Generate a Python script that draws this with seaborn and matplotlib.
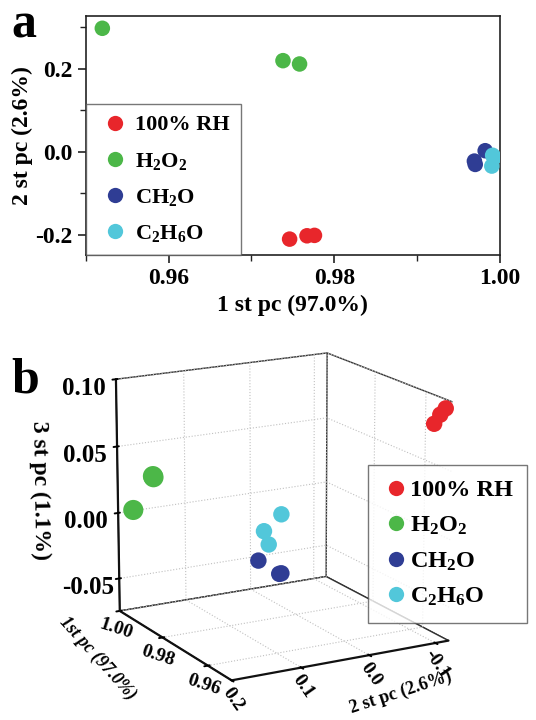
import matplotlib
matplotlib.use("Agg")
import matplotlib.pyplot as plt
from matplotlib.lines import Line2D
from matplotlib.ticker import MultipleLocator, FixedLocator
import pandas as pd
import seaborn as sns

# ---- data ----
groups = ["100% RH", "H2O2", "CH2O", "C2H6O"]
legend_labels = ["100% RH", r"H$_2$O$_2$", r"CH$_2$O", r"C$_2$H$_6$O"]
colors = ["#e8262b", "#4cb748", "#2f3d94", "#52c7da"]

# panel a: 1st pc vs 2nd pc
rh_pc1 = [0.9746, 0.9767, 0.9776]
rh_pc2 = [-0.210, -0.202, -0.201]
h2o2_pc1 = [0.9520, 0.9738, 0.9758]
h2o2_pc2 = [0.298, 0.220, 0.212]
ch2o_pc1 = [0.9982, 0.9969, 0.9970]
ch2o_pc2 = [0.003, -0.022, -0.030]
c2h6o_pc1 = [0.9991, 0.9993, 0.9990]
c2h6o_pc2 = [-0.008, -0.013, -0.034]

# panel b: 3D (1st, 2nd, 3rd pc)
rh_b = dict(pc1=[0.953, 0.952, 0.951], pc2=[-0.105, -0.110, -0.114], pc3=[0.083, 0.090, 0.095])
h2o2_b = dict(pc1=[0.996, 0.987, 0.986], pc2=[0.190, 0.188, 0.192], pc3=[0.005, 0.037, 0.039])
ch2o_b = dict(pc1=[0.993, 0.9835, 0.985], pc2=[0.012, 0.010, 0.008], pc3=[-0.045, -0.046, -0.048])
c2h6o_b = dict(pc1=[0.9835, 0.9905, 0.989], pc2=[0.010, 0.012, 0.010], pc3=[-0.001, -0.020, -0.029])

sns.set_theme(style="ticks")
plt.rcParams["font.family"] = ["Liberation Serif", "DejaVu Serif"]
plt.rcParams["font.weight"] = "bold"
plt.rcParams["axes.labelweight"] = "bold"
plt.rcParams["text.color"] = "black"
plt.rcParams["axes.labelcolor"] = "black"
plt.rcParams["xtick.color"] = "black"
plt.rcParams["ytick.color"] = "black"
plt.rcParams["mathtext.fontset"] = "custom"
plt.rcParams["mathtext.rm"] = "Liberation Serif:bold"
plt.rcParams["mathtext.it"] = "Liberation Serif:bold"
plt.rcParams["mathtext.bf"] = "Liberation Serif:bold"

df_a = pd.DataFrame({
    "pc1": rh_pc1 + h2o2_pc1 + ch2o_pc1 + c2h6o_pc1,
    "pc2": rh_pc2 + h2o2_pc2 + ch2o_pc2 + c2h6o_pc2,
    "group": [groups[0]] * 3 + [groups[1]] * 3 + [groups[2]] * 3 + [groups[3]] * 3,
})
palette = dict(zip(groups, colors))

fig = plt.figure(figsize=(5.36, 7.2), dpi=100)

# ---------------- panel b (drawn first, transparent background) ----------------
ax3 = fig.add_axes([0.04, 0.005, 0.95, 0.56], projection="3d")
ax3.patch.set_alpha(0)
for d, c, sz in zip([rh_b, h2o2_b, ch2o_b, c2h6o_b], colors, [140, 210, 140, 140]):
    ax3.scatter(d["pc1"], d["pc2"], d["pc3"], color=c, s=sz, depthshade=False,
                edgecolor="none", alpha=1)
ax3.set_proj_type("persp", focal_length=1.3)
ax3.view_init(elev=16, azim=151)
ax3.set_box_aspect((1, 1, 1.0), zoom=1.02)
ax3.set_xlim(0.95, 1.00)
ax3.set_ylim(-0.12, 0.20)
ax3.set_zlim(-0.075, 0.10)
ax3.set_xticks([0.96, 0.98, 1.00])
ax3.set_xticklabels(["0.96", "0.98", "1.00"], rotation=-18)
ax3.set_yticks([-0.1, 0.0, 0.1, 0.2])
ax3.set_yticklabels(["-0.1", "0.0", "0.1", "0.2"], rotation=-55)
ax3.set_zticks([-0.05, 0.0, 0.05, 0.10])
ax3.set_zticklabels(["-0.05", "0.00", "0.05", "0.10"])
ax3.zaxis.set_ticks_position("upper")
ax3.zaxis.set_label_position("upper")
for axis in (ax3.xaxis, ax3.yaxis, ax3.zaxis):
    axis.set_pane_color((1, 1, 1, 1))
    axis.pane.set_edgecolor("#333333")
    axis._axinfo["grid"].update(color="#c0c0c0", linestyle=":", linewidth=0.8)
    axis._axinfo["tick"].update(linewidth={True: 1.4, False: 1.0})
    axis.line.set_color("#111111")
    axis.line.set_linewidth(1.6)
ax3.tick_params(axis="x", labelsize=14, pad=-5)
ax3.tick_params(axis="y", labelsize=14, pad=-6)
ax3.tick_params(axis="z", labelsize=18, pad=7)
ax3.set_xlabel("")
ax3.set_ylabel("")
ax3.set_zlabel("3 st pc (1.1%)", fontsize=17, labelpad=16, rotation=-90)
fig.text(0.183, 0.086, "1st pc (97.0%)", fontsize=13, style="italic",
         rotation=-48, ha="center", va="center", rotation_mode="anchor")
fig.text(0.748, 0.038, "2 st pc (2.6%)", fontsize=13, rotation=18,
         ha="center", va="center", rotation_mode="anchor")

handles_b = [Line2D([], [], marker="o", ls="", ms=11, mfc=c, mec="none") for c in colors]
leg_b = fig.legend(handles_b, legend_labels, loc="lower left",
                   bbox_to_anchor=(0.687, 0.135), frameon=True, fancybox=False,
                   edgecolor="#555555", fontsize=17.5, handletextpad=0.0,
                   labelspacing=0.55, handlelength=1.1, borderpad=0.6,
                   borderaxespad=0.0)
leg_b.get_frame().set_linewidth(1.0)
fig.text(0.022, 0.455, "b", fontsize=36, fontweight="bold")

# ---------------- panel a ----------------
ax = fig.add_axes([0.160, 0.646, 0.773, 0.332])
sns.scatterplot(data=df_a, x="pc1", y="pc2", hue="group", palette=palette,
                s=125, edgecolor="none", legend=False, ax=ax, zorder=3)
ax.set_xlim(0.950, 1.000)
ax.set_ylim(-0.248, 0.328)
ax.xaxis.set_major_locator(FixedLocator([0.96, 0.98, 1.00]))
ax.xaxis.set_minor_locator(MultipleLocator(0.01))
ax.yaxis.set_major_locator(FixedLocator([-0.2, 0.0, 0.2]))
ax.yaxis.set_minor_locator(MultipleLocator(0.1))
ax.set_xticklabels(["0.96", "0.98", "1.00"])
ax.set_yticklabels(["-0.2", "0.0", "0.2"])
ax.tick_params(axis="both", which="major", direction="out", length=6, width=1.2,
               labelsize=17, color="#222222")
ax.tick_params(axis="both", which="minor", direction="out", length=4, width=1.0,
               color="#222222")
for sp in ax.spines.values():
    sp.set_linewidth(1.2)
    sp.set_color("#222222")
ax.set_xlabel("1 st pc (97.0%)", fontsize=17, labelpad=4)
ax.set_ylabel("2 st pc (2.6%)", fontsize=17, labelpad=2)

handles_a = [Line2D([], [], marker="o", ls="", ms=11, mfc=c, mec="none") for c in colors]
leg = ax.legend(handles_a, legend_labels, loc="lower left", bbox_to_anchor=(0.0, 0.0),
                frameon=True, fancybox=False, edgecolor="#555555", fontsize=16,
                borderaxespad=0.0, handletextpad=0.12, labelspacing=0.68,
                handlelength=1.6, borderpad=0.5)
leg.get_frame().set_linewidth(1.0)
fig.text(0.022, 0.948, "a", fontsize=36, fontweight="bold")

fig.savefig("out.png", dpi=100)
